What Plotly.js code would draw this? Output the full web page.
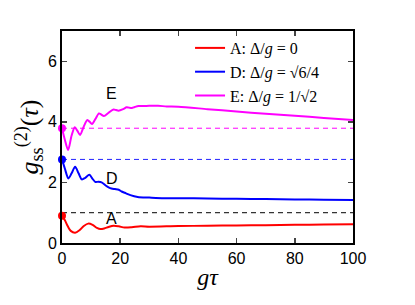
<!DOCTYPE html>
<html><head><meta charset="utf-8">
<script src="https://cdn.plot.ly/plotly-3.0.1.min.js"></script>
<style>html,body{margin:0;padding:0;background:#fff;}#chart{width:415px;height:305px;}</style>
</head><body><div id="chart"></div>
<script>
const xA = [0,1,2,3,4.5,6,7.5,9,10.5,12,13.2,14.5,16,17.7,19.5,21.5,24,27,30,40,50,60,70,80,90,100];
const yA = [0.90,0.75,0.55,0.40,0.34,0.42,0.56,0.64,0.60,0.50,0.46,0.48,0.53,0.57,0.55,0.51,0.52,0.55,0.54,0.56,0.57,0.58,0.59,0.60,0.61,0.62];
const xD = [0,1,2.2,3.3,4.5,5.7,6.8,8,9.4,10.5,11.4,12.5,13.6,15,16,17,18.2,19.5,20.5,22,23.5,26,30,35,40,50,60,70,80,90,100];
const yD = [2.76,2.45,2.13,2.30,2.52,2.30,2.10,2.15,2.25,2.12,2.02,2.02,2.00,1.90,1.84,1.80,1.78,1.76,1.70,1.64,1.58,1.52,1.50,1.48,1.48,1.47,1.46,1.45,1.44,1.43,1.42];
const xE = [0,1,2.1,3.3,4.4,5.3,6.2,7.5,8.7,9.5,10.3,11.5,12.7,13.5,14.4,16,17.7,18.6,19.4,21,22.2,23,24,25,26.3,28,30,33,36,40,50,60,70,80,90,100];
const yE = [3.79,3.4,3.07,3.55,3.82,3.70,3.57,3.85,4.06,4.00,3.93,4.10,4.28,4.24,4.19,4.30,4.41,4.39,4.37,4.42,4.48,4.47,4.46,4.49,4.52,4.52,4.53,4.53,4.51,4.50,4.42,4.34,4.27,4.20,4.13,4.06];
const names = ["A: Δ/<i>g</i> = 0", "D: Δ/<i>g</i> = √6/4", "E: Δ/<i>g</i> = 1/√2"];
const colors = ["#ff0000", "#0000ff", "#ff00ff"];
const refLevels = [1.0, 2.76, 3.79];
const refColors = ["#000000", "#2222ff", "#ff00ff"];
const startVals = [0.90, 2.76, 3.79];
const labels = ["A", "D", "E"];
const labelX = [17.1, 17.2, 17.1];
const labelY = [0.8, 2.12, 4.95];
const xRange = [0, 100];

const traces = [];
refLevels.forEach((v, i) => {
  traces.push({x: xRange, y: [v, v], mode: 'lines', showlegend: false, hoverinfo: 'skip',
    line: {color: refColors[i], width: 1, dash: '5px,4px'}});
});
const xs = [xA, xD, xE], ys = [yA, yD, yE];
for (let i = 0; i < 3; i++) {
  traces.push({x: xs[i], y: ys[i], mode: 'lines', name: names[i],
    line: {color: colors[i], width: 2, shape: 'spline', smoothing: 0.8}});
}
traces.push({x: [0,0,0], y: startVals, mode: 'markers', showlegend: false,
  marker: {color: colors, size: 8}, cliponaxis: false});

const layout = {
  width: 415, height: 305,
  margin: {l: 62, r: 62, t: 31, b: 62},
  paper_bgcolor: '#fff', plot_bgcolor: '#fff',
  showlegend: true,
  legend: {x: 0.44, y: 1.0, xanchor: 'left', yanchor: 'top', bgcolor: 'rgba(0,0,0,0)',
    font: {family: 'Liberation Serif, serif', size: 16, color: '#000'}, tracegroupgap: 0},
  xaxis: {range: [0, 100], tickvals: [0,20,40,60,80,100], ticks: 'inside', ticklen: 5, tickwidth: 1.5,
    showline: true, linewidth: 2, linecolor: '#000', mirror: 'ticks', showgrid: false, zeroline: false,
    tickfont: {family: 'Liberation Sans, Arial, sans-serif', size: 16, color: '#000'},
    title: {text: '<i>gτ</i>', font: {family: 'Liberation Serif, serif', size: 24, color: '#000'}, standoff: 2}},
  yaxis: {range: [0, 7], tickvals: [0,2,4,6], ticks: 'inside', ticklen: 5, tickwidth: 1.5,
    showline: true, linewidth: 2, linecolor: '#000', mirror: 'ticks', showgrid: false, zeroline: false,
    tickfont: {family: 'Liberation Sans, Arial, sans-serif', size: 16, color: '#000'},
    title: {text: '<i>g</i><sub>ss</sub><sup>(2)</sup>(<i>τ</i>)', font: {family: 'Liberation Serif, serif', size: 26, color: '#000'}, standoff: 2}},
  annotations: labels.map((t, i) => ({x: labelX[i], y: labelY[i], text: t, showarrow: false,
    font: {family: 'Liberation Sans, Arial, sans-serif', size: 16, color: '#000'}}))
};
Plotly.newPlot('chart', traces, layout, {displayModeBar: false, staticPlot: true});
</script></body></html>
